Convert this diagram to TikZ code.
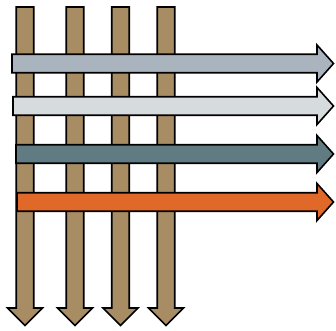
\documentclass[tikz,border=0pt]{standalone}
\usetikzlibrary{}
\definecolor{tan}{RGB}{168,140,100}
\definecolor{steelgray}{RGB}{169,180,190}
\definecolor{lightgray2}{RGB}{214,219,222}
\definecolor{tealgray}{RGB}{96,124,130}
\definecolor{orangex}{RGB}{224,104,40}
\tikzset{
  arrowshape/.style={draw=black, line width=1.6pt, line join=miter},
}
\newcommand{\varrow}[1]{%
  \filldraw[arrowshape, fill=tan]
    (#1-8.75,-7) -- (#1+8.75,-7) -- (#1+8.75,-308) -- (#1+17.5,-308)
    -- (#1,-325.5) -- (#1-17.5,-308) -- (#1-8.75,-308) -- cycle;}
\newcommand{\harrow}[3]{%
  \filldraw[arrowshape, fill=#3]
    (#1,-#2+9.25) -- (317,-#2+9.25) -- (317,-#2+18.5) -- (333.5,-#2)
    -- (317,-#2-18.5) -- (317,-#2-9.25) -- (#1,-#2-9.25) -- cycle;}
\begin{document}
\begin{tikzpicture}[x=1pt,y=1pt]
\useasboundingbox (0,0) rectangle (336,-330);
\varrow{25}
\varrow{75}
\varrow{120.5}
\varrow{166}
\harrow{12}{63.5}{steelgray}
\harrow{13}{106}{lightgray2}
\harrow{16}{154}{tealgray}
\harrow{17}{202}{orangex}
\end{tikzpicture}
\end{document}
